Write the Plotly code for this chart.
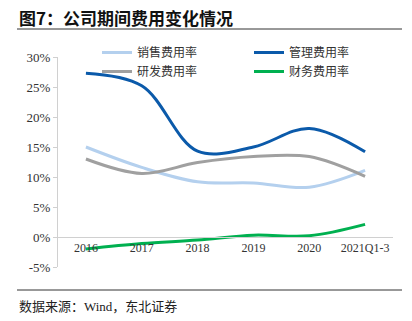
import plotly.graph_objects as go

categories = ["2016", "2017", "2018", "2019", "2020", "2021Q1-3"]
sales_rate = [15.0, 11.6, 9.2, 9.0, 8.3, 11.1]
admin_rate = [27.3, 25.2, 14.3, 15.0, 18.1, 14.2]
rd_rate = [13.0, 10.6, 12.4, 13.4, 13.4, 10.1]
fin_rate = [-2.0, -1.1, -0.5, 0.3, 0.2, 2.1]
y_ticks = [-5, 0, 5, 10, 15, 20, 25, 30]
y_tick_labels = ["-5%", "0%", "5%", "10%", "15%", "20%", "25%", "30%"]

series = [
    ("销售费用率", sales_rate, "#B4D0EE", "legend"),
    ("管理费用率", admin_rate, "#0B5AAA", "legend2"),
    ("研发费用率", rd_rate, "#A0A0A0", "legend"),
    ("财务费用率", fin_rate, "#00B050", "legend2"),
]

L, R, T, B = 58, 19, 57, 54
W, H = 412, 321
PW, PH = W - L - R, H - T - B

def px(x):
    return (x - L) / PW

def py(y):
    return (H - B - y) / PH

fig = go.Figure()
for name, vals, color, lg in series:
    fig.add_trace(go.Scatter(
        x=categories, y=vals, name=name, mode="lines", legend=lg,
        line=dict(color=color, width=3, shape="spline", smoothing=1),
    ))

cjk = "Noto Sans CJK SC"
serif = "Liberation Serif, Noto Sans CJK SC"

legend_style = dict(
    orientation="v", yanchor="top", xanchor="left",
    font=dict(family=cjk, size=12, color="#333"),
    bgcolor="rgba(0,0,0,0)", tracegroupgap=0, itemwidth=30,
)

fig.update_layout(
    width=W, height=H,
    margin=dict(l=L, r=R, t=T, b=B),
    paper_bgcolor="white", plot_bgcolor="white",
    showlegend=True,
    legend=dict(x=px(97), y=py(38), **legend_style),
    legend2=dict(x=px(249), y=py(38), **legend_style),
    xaxis=dict(
        type="category", range=[-0.5, 5.5],
        anchor="free", position=5 / 35,
        showline=True, linecolor="#D0D0D0", linewidth=1,
        ticks="", showgrid=False, zeroline=False,
        tickfont=dict(family=serif, size=12, color="#333"),
    ),
    yaxis=dict(
        range=[-5, 30], tickmode="array", tickvals=y_ticks, ticktext=y_tick_labels,
        showline=True, linecolor="#D0D0D0", linewidth=1,
        ticks="outside", ticklen=4, tickcolor="#D0D0D0",
        showgrid=False, zeroline=False,
        tickfont=dict(family=serif, size=13, color="#333"),
    ),
    annotations=[
        dict(text="<b>图7：公司期间费用变化情况</b>", xref="paper", yref="paper",
             x=px(17), y=py(17), xanchor="left", yanchor="middle", showarrow=False,
             font=dict(family=cjk, size=17, color="#111")),
        dict(text="数据来源：Wind，东北证券", xref="paper", yref="paper",
             x=px(17), y=py(306), xanchor="left", yanchor="middle", showarrow=False,
             font=dict(family=serif, size=13, color="#222")),
    ],
    shapes=[
        dict(type="line", xref="paper", yref="paper", x0=px(17), x1=px(402),
             y0=py(29), y1=py(29), line=dict(color="#333", width=1)),
        dict(type="line", xref="paper", yref="paper", x0=px(17), x1=px(402),
             y0=py(290), y1=py(290), line=dict(color="#333", width=1)),
    ],
)

fig.write_html("out.html")
